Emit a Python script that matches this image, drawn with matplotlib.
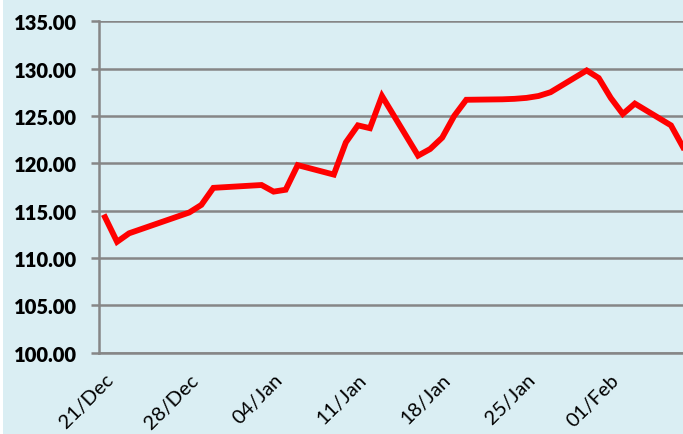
import matplotlib
matplotlib.use("Agg")
import matplotlib.pyplot as plt
import matplotlib.dates as mdates
from matplotlib.patches import Rectangle
import pandas as pd

dates = ["2016-12-21", "2016-12-22", "2016-12-23", "2016-12-28", "2016-12-29",
         "2016-12-30", "2017-01-03", "2017-01-04", "2017-01-05", "2017-01-06",
         "2017-01-09", "2017-01-10", "2017-01-11", "2017-01-12", "2017-01-13",
         "2017-01-16", "2017-01-17", "2017-01-18", "2017-01-19", "2017-01-20",
         "2017-01-23", "2017-01-24", "2017-01-25", "2017-01-26", "2017-01-27",
         "2017-01-30", "2017-01-31", "2017-02-01", "2017-02-02", "2017-02-03",
         "2017-02-06", "2017-02-07"]
values = [114.3, 111.7, 112.6, 114.8, 115.6,
          117.4, 117.7, 117.0, 117.2, 119.8,
          118.8, 122.2, 124.0, 123.7, 127.1,
          120.8, 121.5, 122.7, 125.0, 126.7,
          126.75, 126.8, 126.9, 127.1, 127.5,
          129.8, 129.0, 126.9, 125.2, 126.3,
          124.0, 121.7]
tick_dates = ["2016-12-21", "2016-12-28", "2017-01-04", "2017-01-11",
              "2017-01-18", "2017-01-25", "2017-02-01"]
y_ticks = [100, 105, 110, 115, 120, 125, 130, 135]

x = pd.to_datetime(dates)
bg = "#DAEEF3"
grid_c = "#868686"

fig = plt.figure(figsize=(6.83, 4.35), dpi=100)
fig.patch.set_facecolor(bg)
fig.patches.append(Rectangle((0, 0), 3 / 683, 1, transform=fig.transFigure,
                             facecolor="white", edgecolor="none", zorder=0))
ax = fig.add_axes([99 / 683, 1 - 353.6 / 435, 1 - 99 / 683, (353.6 - 22.2) / 435])
ax.set_facecolor(bg)

ax.plot(x, values, color="#FF0000", lw=4.2, solid_joinstyle="miter", zorder=3,
        clip_on=True)

ax.set_ylim(100, 135)
ax.set_yticks(y_ticks)
ax.set_yticklabels([f"{v:.2f}" for v in y_ticks], fontfamily="Lato",
                   fontweight="heavy", fontsize=14.5)
ax.yaxis.grid(True, color=grid_c, lw=1.8)
ax.set_axisbelow(True)

x0 = pd.Timestamp("2016-12-21") - pd.Timedelta(hours=12)
x1 = pd.Timestamp("2017-02-07")
ax.set_xlim(x0, x1)
ax.set_xticks(pd.to_datetime(tick_dates))
ax.xaxis.set_major_formatter(mdates.DateFormatter("%d/%b"))
for lab in ax.get_xticklabels():
    lab.set_rotation(45)
    lab.set_ha("right")
    lab.set_va("top")
    lab.set_rotation_mode("anchor")
    lab.set_fontfamily("Lato")
    lab.set_fontsize(14.5)

ax.tick_params(axis="x", length=0, pad=13)
ax.tick_params(axis="y", length=6, width=1.8, color=grid_c, pad=10)

for s in ["top", "right"]:
    ax.spines[s].set_visible(False)
ax.spines["left"].set_color(grid_c)
ax.spines["left"].set_linewidth(1.8)
ax.spines["bottom"].set_color(grid_c)
ax.spines["bottom"].set_linewidth(1.8)

fig.savefig("out.png", dpi=100, facecolor=fig.get_facecolor())
